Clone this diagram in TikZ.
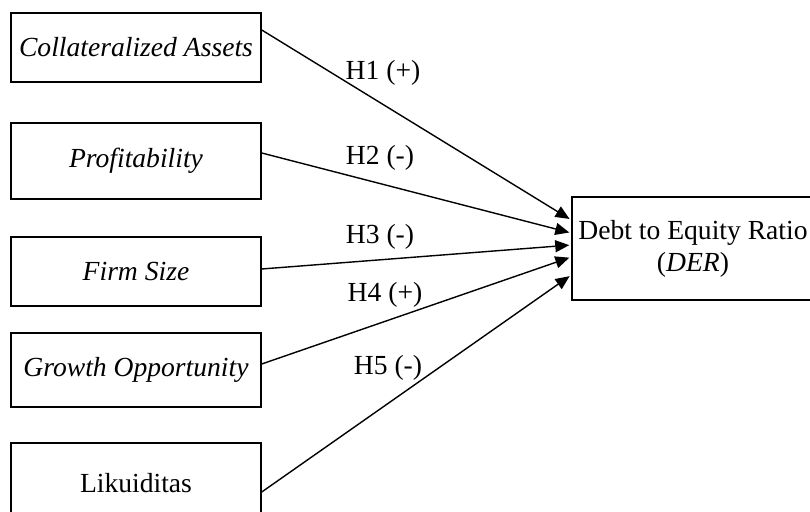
\documentclass[tikz,border=0pt]{standalone}
\usepackage{fontspec}
\setmainfont{Liberation Serif}
\usetikzlibrary{arrows.meta}
\begin{document}
\begin{tikzpicture}[x=0.5pt,y=-0.5pt,
        font=\fontsize{13.8}{16}\selectfont,
        var/.style = {draw,
            line width=0.75pt,
            minimum width=125pt,
            inner sep=0pt
            },
        hyp/.style = {-{Triangle[length=7pt,width=6pt]},
            line width=0.7pt,
            shorten >=1pt
            }]
    
    \useasboundingbox (0,0) rectangle (810,512);
    \clip (0,0) rectangle (810,512);
    
    % Independent variables
    \node[var,minimum height=34.5pt] (ca) at (136,47.5) {\textit{Collateralized Assets}};
    \node[var,minimum height=38pt] (prof) at (136,161) {\textit{Profitability}};
    \node[var,minimum height=34.5pt] (size) at (136,271.5) {\textit{Firm Size}};
    \node[var,minimum height=37pt] (growth) at (136,370) {\textit{Growth Opportunity}};
    \node[var,minimum height=40pt] (liq) at (136,483) {Likuiditas};
    
    % Dependent variable
    \node[var,minimum width=121pt,minimum height=51.5pt,align=center] (der) at (693,248.5)
        {Debt to Equity Ratio\\(\textit{DER})};
    
    % Hypotheses
    \draw[hyp] ([yshift=8.75pt]ca.east) -- ([yshift=14.25pt]der.west);
    \draw[hyp] ([yshift=4pt]prof.east) -- ([yshift=7.75pt]der.west);
    \draw[hyp] ([yshift=1.25pt]size.east) -- ([yshift=1.75pt]der.west);
    \draw[hyp] ([yshift=3pt]growth.east) -- ([yshift=-4.25pt]der.west);
    \draw[hyp] ([yshift=-4.5pt]liq.east) -- ([yshift=-13.25pt]der.west);
    
    % Labels
    \node (h1) at (383,73) {H1 (+)};
    \node (h2) at (380,158) {H2 (-)};
    \node (h3) at (380,237) {H3 (-)};
    \node (h4) at (385,295) {H4 (+)};
    \node (h5) at (388,368) {H5 (-)};
    
\end{tikzpicture}
\end{document}
